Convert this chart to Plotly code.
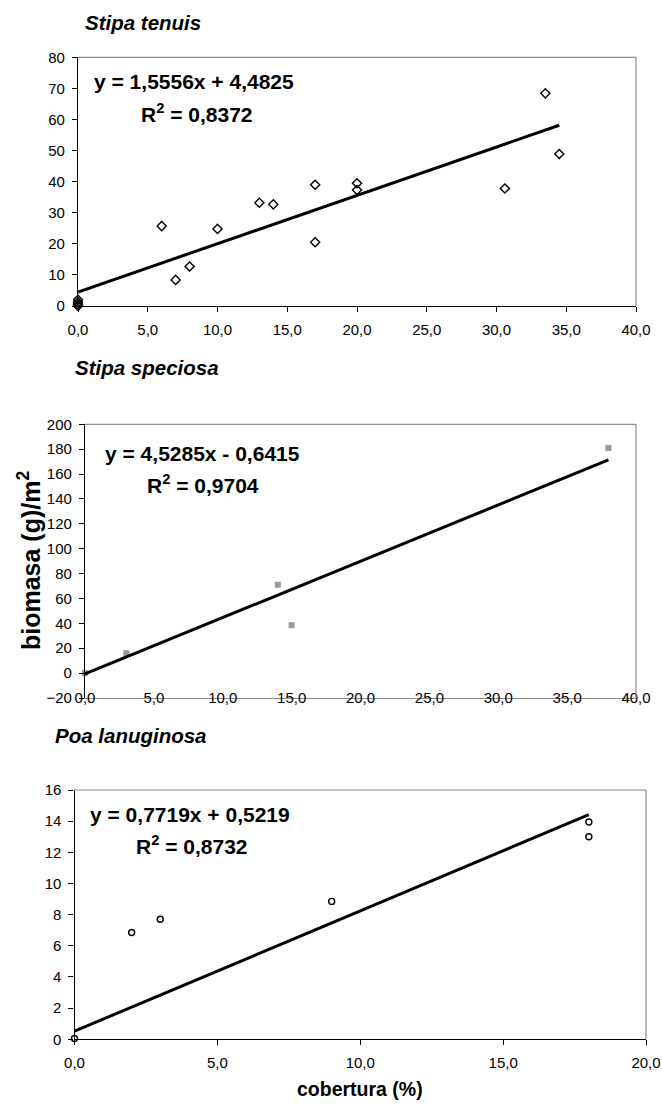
import numpy as np
import plotly.graph_objects as go

W, H = 662, 1105

# ---------------- data ----------------
tenuis_x = [0, 0, 0, 0, 6, 7, 8, 10, 13, 14, 17, 17, 20, 20, 30.6, 33.5, 34.5]
tenuis_y = [0, 0.6, 1.2, 2.0, 25.7, 8.4, 12.7, 24.8, 33.2, 32.7, 39.0, 20.5, 39.5, 37.3, 37.8, 68.4, 48.9]
tenuis_fit = (1.5556, 4.4825)
tenuis_eq = ["y = 1,5556x + 4,4825", "R<sup>2</sup> = 0,8372"]

speciosa_x = [0, 3, 14, 15, 38]
speciosa_y = [0, 16, 71, 38.5, 181]
speciosa_fit = (4.5285, -0.6415)
speciosa_eq = ["y = 4,5285x - 0,6415", "R<sup>2</sup> = 0,9704"]

poa_x = [0, 2, 3, 9, 18, 18]
poa_y = [0.05, 6.85, 7.7, 8.85, 13.95, 13.0]
poa_fit = (0.7719, 0.5219)
poa_eq = ["y = 0,7719x + 0,5219", "R<sup>2</sup> = 0,8732"]

titles = ["Stipa tenuis", "Stipa speciosa", "Poa lanuginosa"]
ytitle = "biomasa (g)/m<sup>2</sup>"
xtitle = "cobertura (%)"

x_ticks_40 = [0, 5, 10, 15, 20, 25, 30, 35, 40]
x_ticks_20 = [0, 5, 10, 15, 20]
x_labels_40 = ["0,0", "5,0", "10,0", "15,0", "20,0", "25,0", "30,0", "35,0", "40,0"]
x_labels_20 = ["0,0", "5,0", "10,0", "15,0", "20,0"]
y_ticks_1 = [0, 10, 20, 30, 40, 50, 60, 70, 80]
y_ticks_2 = [-20, 0, 20, 40, 60, 80, 100, 120, 140, 160, 180, 200]
y_ticks_3 = [0, 2, 4, 6, 8, 10, 12, 14, 16]

# ---------------- helpers ----------------
def px(x):
    return x / W

def py(y):
    return 1 - y / H

FONT = "Liberation Sans, Arial, sans-serif"
TICKF = dict(family=FONT, size=15, color="black")
GRAY = "#8c8c8c"

# plot areas in pixels: (left, right, top, bottom)
areas = [
    (78, 636, 57.3, 306),
    (85, 636, 424.3, 698),
    (74.5, 646, 790, 1039.3),
]

fig = go.Figure()

def fit_line(xs, fit):
    xx = np.array([min(xs), max(xs)], dtype=float)
    return xx, fit[0] * xx + fit[1]

# Panel 1
fig.add_trace(go.Scatter(x=tenuis_x, y=tenuis_y, mode="markers", xaxis="x", yaxis="y", cliponaxis=False,
                         marker=dict(symbol="diamond-open", size=7, color="black",
                                     line=dict(width=1.4, color="black")), showlegend=False))
lx, ly = fit_line(tenuis_x, tenuis_fit)
fig.add_trace(go.Scatter(x=lx, y=ly, mode="lines", xaxis="x", yaxis="y",
                         line=dict(color="black", width=3), showlegend=False))

# Panel 2
fig.add_trace(go.Scatter(x=speciosa_x, y=speciosa_y, mode="markers", xaxis="x2", yaxis="y2", cliponaxis=False,
                         marker=dict(symbol="square", size=6, color="#9a9a9a"), showlegend=False))
lx, ly = fit_line(speciosa_x, speciosa_fit)
fig.add_trace(go.Scatter(x=lx, y=ly, mode="lines", xaxis="x2", yaxis="y2",
                         line=dict(color="black", width=3), showlegend=False))

# Panel 3
fig.add_trace(go.Scatter(x=poa_x, y=poa_y, mode="markers", xaxis="x3", yaxis="y3", cliponaxis=False,
                         marker=dict(symbol="circle-open", size=6, color="black",
                                     line=dict(width=1.4, color="black")), showlegend=False))
lx, ly = fit_line(poa_x, poa_fit)
fig.add_trace(go.Scatter(x=lx, y=ly, mode="lines", xaxis="x3", yaxis="y3",
                         line=dict(color="black", width=3), showlegend=False))

def xax(i, rng, tv, tt, **kw):
    l, r, t, b = areas[i]
    d = dict(domain=[px(l), px(r)], range=rng, tickvals=tv, ticktext=tt,
             showline=True, linecolor="black", linewidth=1.3, ticks="outside",
             ticklen=5, tickcolor="black", tickwidth=1.2, showgrid=False,
             zeroline=False, tickfont=TICKF, fixedrange=True, automargin=False,
             ticklabelstandoff=5)
    d.update(kw)
    return d

def yax(i, rng, tv, **kw):
    l, r, t, b = areas[i]
    d = dict(domain=[py(b), py(t)], range=rng, tickvals=tv,
             showline=True, linecolor="black", linewidth=1.3, ticks="outside",
             ticklen=5, tickcolor="black", tickwidth=1.2, showgrid=False,
             zeroline=False, tickfont=TICKF, fixedrange=True, automargin=False,
             ticklabelstandoff=4)
    d.update(kw)
    return d

# panel 2: y=0 axis position in paper coords
y2_zero_px = areas[1][3] - (0 - (-20)) / 220 * (areas[1][3] - areas[1][2])

fig.update_layout(
    template="none",
    width=W, height=H,
    margin=dict(l=0, r=0, t=0, b=0, pad=0),
    paper_bgcolor="white", plot_bgcolor="white",
    font=dict(family=FONT, color="black"),
    xaxis=xax(0, [0, 40], x_ticks_40, x_labels_40, anchor="y"),
    yaxis=yax(0, [0, 80], y_ticks_1, anchor="x"),
    xaxis2=xax(1, [0, 40], x_ticks_40, x_labels_40, anchor="y2",
               linecolor=GRAY, linewidth=1.2, ticks="", ticklabelstandoff=-14),
    xaxis4=xax(1, [0, 40], x_ticks_40, x_labels_40, anchor="free", overlaying="x2",
               position=py(y2_zero_px), showticklabels=False),
    yaxis2=yax(1, [-20, 200], y_ticks_2, anchor="x2"),
    xaxis3=xax(2, [0, 20], x_ticks_20, x_labels_20, anchor="y3"),
    yaxis3=yax(2, [0, 16], y_ticks_3, anchor="x3"),
)

# gray top/right frame lines
shapes = []
for i, (xa, ya) in enumerate([("x", "y"), ("x2", "y2"), ("x3", "y3")]):
    shapes.append(dict(type="line", xref=f"{xa} domain", yref=f"{ya} domain",
                       x0=0, x1=1, y0=1, y1=1, line=dict(color=GRAY, width=1.2)))
    shapes.append(dict(type="line", xref=f"{xa} domain", yref=f"{ya} domain",
                       x0=1, x1=1, y0=0, y1=1, line=dict(color=GRAY, width=1.2)))
fig.update_layout(shapes=shapes)

ann = []
title_pos = [(83, 22), (73, 368), (53, 735)]
for (x, y), t in zip(title_pos, titles):
    ann.append(dict(text=f"<b><i>{t}</i></b>", x=px(x), y=py(y), xref="paper", yref="paper",
                    xanchor="left", yanchor="middle", showarrow=False,
                    font=dict(family=FONT, size=20.5, color="black")))

eq_pos = [((92, 82), (139, 113)), ((103, 453), (145, 484)), ((88, 814), (134, 845))]
for (p1, p2), eq in zip(eq_pos, [tenuis_eq, speciosa_eq, poa_eq]):
    for (x, y), t in zip((p1, p2), eq):
        ann.append(dict(text=f"<b>{t}</b>", x=px(x), y=py(y), xref="paper", yref="paper",
                        xanchor="left", yanchor="middle", showarrow=False,
                        font=dict(family=FONT, size=21, color="black")))

ann.append(dict(text=f"<b>{ytitle}</b>", x=px(29), y=py(561), xref="paper", yref="paper",
                xanchor="center", yanchor="middle", textangle=-90, showarrow=False,
                font=dict(family=FONT, size=25, color="black")))
ann.append(dict(text=f"<b>{xtitle}</b>", x=px(360), y=py(1089), xref="paper", yref="paper",
                xanchor="center", yanchor="middle", showarrow=False,
                font=dict(family=FONT, size=19.5, color="black")))
fig.update_layout(annotations=ann)

fig.write_html("out.html", config={"displayModeBar": False},
               post_script="document.body.style.margin='0';document.body.style.overflow='hidden';")
